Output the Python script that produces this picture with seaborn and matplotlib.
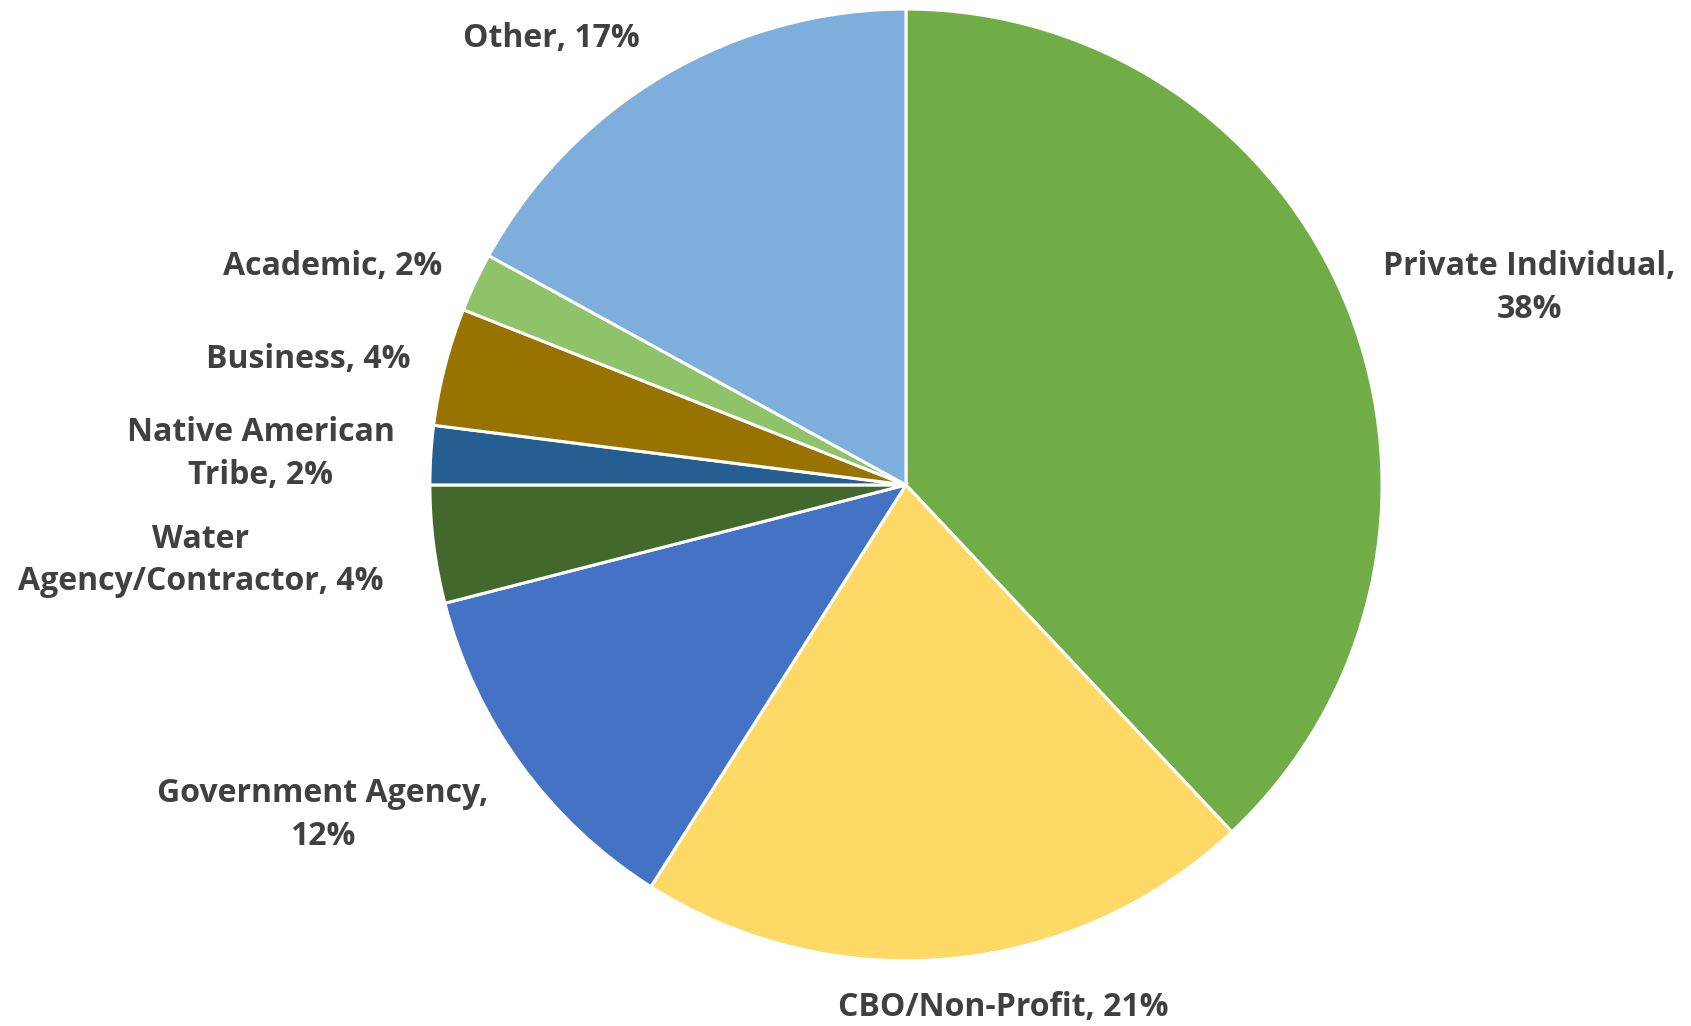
import matplotlib
matplotlib.use("Agg")
import matplotlib.pyplot as plt
import seaborn as sns

sns.set_style("white")
plt.rcParams['font.family'] = ['Open Sans', 'DejaVu Sans']

categories = ["Private Individual", "CBO/Non-Profit", "Government Agency",
              "Water Agency/Contractor", "Native American Tribe", "Business",
              "Academic", "Other"]
values = [38, 21, 12, 4, 2, 4, 2, 17]
colors = ["#70AD47", "#FFD966", "#4472C4", "#43682B", "#255E91", "#997300",
          "#8FC36A", "#7EAFDC"]
labels = ["Private Individual,\n38%", "CBO/Non-Profit, 21%", "Government Agency,\n12%",
          "Water\nAgency/Contractor, 4%", "Native American\nTribe, 2%", "Business, 4%",
          "Academic, 2%", "Other, 17%"]
label_pos = [(1.309, 0.414), (0.204, -1.099), (-1.226, -0.694), (-1.482, -0.159),
             (-1.355, 0.065), (-1.255, 0.264), (-1.205, 0.459), (-0.744, 0.939)]

fig = plt.figure(figsize=(16.91, 10.26), dpi=100)
ax = fig.add_axes([0, 0, 1, 1])
ax.pie(values, colors=colors, startangle=90, counterclock=False, radius=1.0,
       wedgeprops=dict(edgecolor="white", linewidth=2.2))
ax.set_xlim(-1.903, 1.649)
ax.set_ylim(-1.137, 1.019)
ax.set_aspect("auto")
ax.axis("off")
for lab, (x, y) in zip(labels, label_pos):
    ax.text(x, y, lab, ha="center", va="center", fontsize=23, fontweight="bold",
            color="#404040", linespacing=1.38)
fig.savefig("out.png", dpi=100)
